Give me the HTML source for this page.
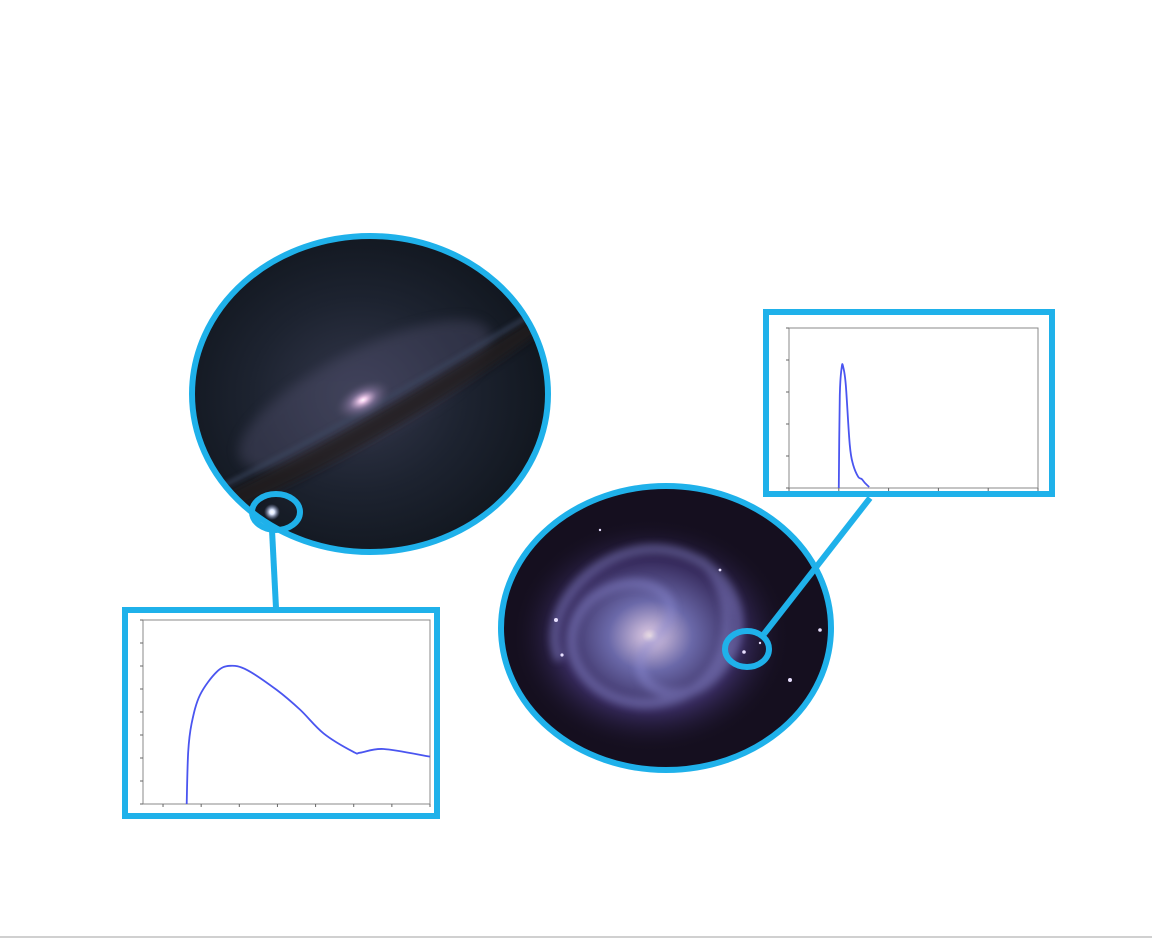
<!DOCTYPE html>
<html><head><meta charset="utf-8"><style>
html,body{margin:0;padding:0;background:#fff;width:1152px;height:938px;overflow:hidden;font-family:"Liberation Sans",sans-serif}
svg{position:absolute;left:0;top:0}
</style></head><body>
<svg id="root" width="1152" height="938" viewBox="0 0 1152 938">
<defs>
<radialGradient id="sombBg" cx="0.47" cy="0.5" r="0.62">
<stop offset="0" stop-color="#34384c"/><stop offset="0.45" stop-color="#1d2330"/><stop offset="1" stop-color="#0b1016"/>
</radialGradient>
<radialGradient id="core" cx="0.5" cy="0.5" r="0.5">
<stop offset="0" stop-color="#fffaff"/><stop offset="0.12" stop-color="#eec8ea"/><stop offset="0.45" stop-color="#9a84b0" stop-opacity="0.55"/><stop offset="1" stop-color="#3a3e55" stop-opacity="0"/>
</radialGradient>
<radialGradient id="spiralBg" cx="0.48" cy="0.5" r="0.5">
<stop offset="0" stop-color="#fff0e8"/><stop offset="0.06" stop-color="#c9b8d8"/><stop offset="0.3" stop-color="#6a68a8"/><stop offset="0.65" stop-color="#35295a"/><stop offset="1" stop-color="#140f1e" stop-opacity="0"/>
</radialGradient>
<radialGradient id="star" cx="0.5" cy="0.5" r="0.5">
<stop offset="0" stop-color="#fff"/><stop offset="0.3" stop-color="#dfe8ff"/><stop offset="1" stop-color="#8090c0" stop-opacity="0"/>
</radialGradient>
<filter id="blur6"><feGaussianBlur stdDeviation="6"/></filter>
<filter id="blur4"><feGaussianBlur stdDeviation="4"/></filter>
<filter id="blur2"><feGaussianBlur stdDeviation="2"/></filter>
<clipPath id="clipL"><ellipse cx="370" cy="394" rx="178" ry="158"/></clipPath>
<clipPath id="clipR"><ellipse cx="666" cy="628" rx="165" ry="142"/></clipPath>
</defs>

<g clip-path="url(#clipL)">
<rect x="180" y="225" width="380" height="340" fill="url(#sombBg)"/>
<ellipse cx="365" cy="395" rx="140" ry="45" fill="#5a5878" opacity="0.35" transform="rotate(-27 365 395)" filter="url(#blur6)"/>
<path d="M200,505 Q360,430 545,310 L548,326 Q385,448 205,522 Z" fill="#201c1c" opacity="0.8" filter="url(#blur4)"/>
<path d="M215,490 Q360,418 535,312" stroke="#3e4862" stroke-width="5" fill="none" opacity="0.6" filter="url(#blur2)"/>
<ellipse cx="363" cy="400" rx="32" ry="18" fill="url(#core)" transform="rotate(-27 363 400)"/>
<path d="M190,470 Q230,520 300,550 L190,560 Z" fill="#0b0f14" opacity="0.6" filter="url(#blur4)"/>
<circle cx="272" cy="512" r="8" fill="url(#star)"/>
</g>
<ellipse cx="370" cy="394" rx="178" ry="158" fill="none" stroke="#1fb1ea" stroke-width="6"/>
<ellipse cx="276" cy="512" rx="24" ry="18" fill="none" stroke="#1fb1ea" stroke-width="6"/>
<line x1="272" y1="530" x2="276" y2="608" stroke="#1fb1ea" stroke-width="6"/>

<g clip-path="url(#clipR)">
<rect x="495" y="480" width="345" height="300" fill="#150f1f"/>
<ellipse cx="656" cy="636" rx="140" ry="118" fill="url(#spiralBg)"/>
<g fill="none" stroke="#8a88d0" stroke-width="10" opacity="0.45" filter="url(#blur4)">
<path d="M655,638 C700,600 640,560 590,600 C540,650 600,720 670,700 C740,680 740,590 700,560"/>
<path d="M655,638 C610,680 680,720 720,670 C770,610 710,540 640,550 C580,560 540,620 560,660"/>
</g>
<g fill="#e8e0ff">
<circle cx="556" cy="620" r="2"/><circle cx="562" cy="655" r="1.6"/><circle cx="790" cy="680" r="2"/><circle cx="820" cy="630" r="1.8"/><circle cx="744" cy="652" r="1.8"/><circle cx="760" cy="643" r="1.2"/><circle cx="600" cy="530" r="1.2"/><circle cx="720" cy="570" r="1.4"/>
</g>
</g>
<ellipse cx="666" cy="628" rx="165" ry="142" fill="none" stroke="#1fb1ea" stroke-width="6"/>
<ellipse cx="747" cy="649" rx="22" ry="18" fill="none" stroke="#1fb1ea" stroke-width="6"/>
<line x1="764" y1="634" x2="870" y2="498" stroke="#1fb1ea" stroke-width="6"/>

<rect x="125" y="610" width="312" height="206" fill="#fff" stroke="#1fb1ea" stroke-width="6"/>
<rect x="766" y="312" width="286" height="182" fill="#fff" stroke="#1fb1ea" stroke-width="6"/>
<g id="chartL"></g>
<g id="chartR"></g>
<line x1="0" y1="937" x2="1152" y2="937" stroke="#d0d0d0" stroke-width="2"/>
</svg>
<script>
// Left light curve (type II-like)
const leftX = [0.62,0.66,0.75,0.97,1.41,1.76,2.20,2.98,3.60,4.21,4.99,5.17,5.78,7.0];
const leftY = [0,2.27,3.5,4.74,5.75,6.01,5.83,4.96,4.09,3.07,2.27,2.23,2.39,2.06];
const leftXTicks = [0,1,2,3,4,5,6,7];
const leftYTicks = [0,1,2,3,4,5,6,7,8];
// Right light curve (type Ia-like)
const rightX = [1.0,1.02,1.06,1.09,1.14,1.22,1.29,1.39,1.46,1.53,1.61];
const rightY = [0,2.9,3.79,3.77,3.22,1.34,0.72,0.35,0.28,0.15,0.03];
const rightXTicks = [0,1,2,3,4,5];
const rightYTicks = [0,1,2,3,4,5];

const NS='http://www.w3.org/2000/svg';
function mk(tag, attrs, parent){const e=document.createElementNS(NS,tag);for(const k in attrs)e.setAttribute(k,attrs[k]);parent.appendChild(e);return e;}

function smoothPath(pts){
  let d='M'+pts[0][0].toFixed(1)+','+pts[0][1].toFixed(1);
  for(let i=0;i<pts.length-1;i++){
    const p0=pts[Math.max(0,i-1)],p1=pts[i],p2=pts[i+1],p3=pts[Math.min(pts.length-1,i+2)];
    const c1x=p1[0]+(p2[0]-p0[0])/6,c1y=p1[1]+(p2[1]-p0[1])/6;
    const c2x=p2[0]-(p3[0]-p1[0])/6,c2y=p2[1]-(p3[1]-p1[1])/6;
    d+='C'+c1x.toFixed(1)+','+c1y.toFixed(1)+' '+c2x.toFixed(1)+','+c2y.toFixed(1)+' '+p2[0].toFixed(1)+','+p2[1].toFixed(1);
  }
  return d;
}

function drawChart(g, xs, ys, xt, yt, box, xdom, ydom, prefix){
  const sx=v=>box.x0+(v-xdom[0])/(xdom[1]-xdom[0])*(box.x1-box.x0);
  const sy=v=>box.y1-(v-ydom[0])/(ydom[1]-ydom[0])*(box.y1-box.y0);
  const frame=mk('rect',{x:box.x0,y:box.y0,width:box.x1-box.x0,height:box.y1-box.y0,fill:'none',stroke:'#888','stroke-width':1},g);
  
  
  xt.forEach(t=>{const l=mk('line',{x1:sx(t),x2:sx(t),y1:box.y1,y2:box.y1+3,stroke:'#666','stroke-width':1},g);
    
    });
  yt.forEach(t=>{const l=mk('line',{x1:box.x0-3,x2:box.x0,y1:sy(t),y2:sy(t),stroke:'#666','stroke-width':1},g);
    
    });
  const pts=xs.map((x,i)=>[sx(x),sy(ys[i])]);
  const p=mk('path',{d:smoothPath(pts),fill:'none',stroke:'#4a55f0','stroke-width':1.8,'stroke-linejoin':'round'},g);
  
  
}
const gL=document.getElementById('chartL');


drawChart(gL,leftX,leftY,leftXTicks,leftYTicks,{x0:143,x1:430,y0:620,y1:804},[-0.525,7.0],[0,8],'left');
const gR=document.getElementById('chartR');


drawChart(gR,rightX,rightY,rightXTicks,rightYTicks,{x0:789,x1:1038,y0:328,y1:488},[0,5],[0,5],'right');
</script>
</body></html>
